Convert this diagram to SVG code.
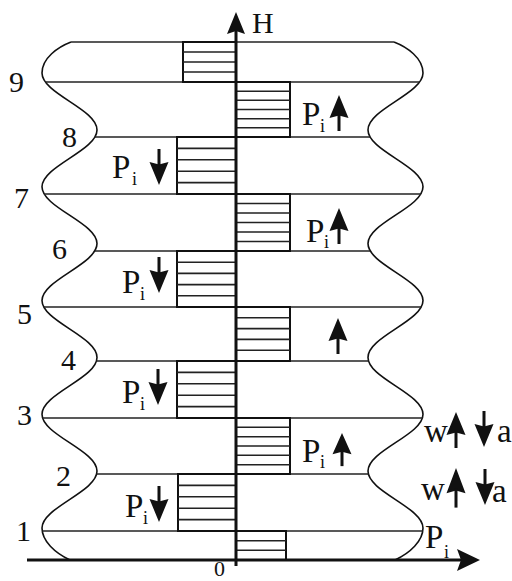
<svg xmlns="http://www.w3.org/2000/svg" width="512" height="581" viewBox="0 0 512 581">
  <style>
    .profile { fill: none; stroke: #111; stroke-width: 1.6; }
    .level { stroke: #222; stroke-width: 1.4; }
    .hatch { stroke: #222; stroke-width: 1.6; }
    .block { fill: none; stroke: #111; stroke-width: 2; }
    .axis { stroke: #111; stroke-width: 3; }
    .num { font-family: "Liberation Serif", "Times New Roman", serif; font-size: 30px; fill: #111; }
    .origin { font-family: "Liberation Serif", "Times New Roman", serif; font-size: 22px; fill: #111; }
    .lbl { font-family: "Liberation Serif", "Times New Roman", serif; font-size: 33px; fill: #111; }
    .sub { font-family: "Liberation Serif", "Times New Roman", serif; font-size: 18px; fill: #111; }
    .arrow { fill: #111; }
  </style>
  <defs>
    <!-- upward force arrow, tip at origin, 36 px long -->
    <g id="up" class="arrow">
      <path d="M0,0 L9.5,23 L0,20.5 L-9.5,23 Z"/>
      <rect x="-1.5" y="19" width="3" height="17"/>
    </g>
  </defs>

  <!-- outer wavy profile of the column -->
  <g id="profile">
    <path class="profile" d="M71,42 C58,47 42,58 42,73
      C42,93.7 97,109.2 97,129.9
      C97,150.6 42,166.1 42,186.8
      C42,207.5 97,222.9 97,243.6
      C97,264.3 42,279.8 42,300.5
      C42,321.2 97,336.7 97,357.4
      C97,378.1 42,393.6 42,414.3
      C42,435 97,450.4 97,471.1
      C97,491.8 42,507.3 42,528
      C42,541 55,553 70,560"/>
    <path class="profile" d="M394,42 C407,47 423,58 423,73
      C423,93.7 368,109.2 368,129.9
      C368,150.6 423,166.1 423,186.8
      C423,207.5 368,222.9 368,243.6
      C368,264.3 423,279.8 423,300.5
      C423,321.2 368,336.7 368,357.4
      C368,378.1 423,393.6 423,414.3
      C423,435 368,450.4 368,471.1
      C368,491.8 423,507.3 423,528
      C423,541 410,553 395,560"/>
  </g>

  <!-- storey levels -->
  <g id="levels">
    <line class="level" x1="71" y1="42" x2="394" y2="42"/>
    <line class="level" x1="45.3" y1="82" x2="419.7" y2="82"/>
    <line class="level" x1="94.9" y1="137" x2="370.1" y2="137"/>
    <line class="level" x1="44.1" y1="194" x2="420.9" y2="194"/>
    <line class="level" x1="94.7" y1="251" x2="370.3" y2="251"/>
    <line class="level" x1="43.8" y1="307" x2="421.2" y2="307"/>
    <line class="level" x1="96.5" y1="361" x2="368.5" y2="361"/>
    <line class="level" x1="42.6" y1="418" x2="422.4" y2="418"/>
    <line class="level" x1="96.6" y1="474" x2="368.4" y2="474"/>
    <line class="level" x1="42.4" y1="531" x2="422.6" y2="531"/>
  </g>

  <!-- hatched force blocks, left of the axis -->
  <g id="blocks-left">
    <g id="block-9">
      <rect class="block" x="183" y="42" width="53" height="40"/>
      <path class="hatch" d="M183,52H236M183,62H236M183,72H236"/>
    </g>
    <g id="block-8">
      <rect class="block" x="177" y="137" width="59" height="57"/>
      <path class="hatch" d="M177,148.4H236M177,159.8H236M177,171.2H236M177,182.6H236"/>
    </g>
    <g id="block-6">
      <rect class="block" x="177" y="251" width="59" height="56"/>
      <path class="hatch" d="M177,262.2H236M177,273.4H236M177,284.6H236M177,295.8H236"/>
    </g>
    <g id="block-4">
      <rect class="block" x="177" y="361" width="59" height="57"/>
      <path class="hatch" d="M177,372.4H236M177,383.8H236M177,395.2H236M177,406.6H236"/>
    </g>
    <g id="block-2">
      <rect class="block" x="178" y="474" width="58" height="57"/>
      <path class="hatch" d="M178,485.4H236M178,496.8H236M178,508.2H236M178,519.6H236"/>
    </g>
  </g>

  <!-- hatched force blocks, right of the axis -->
  <g id="blocks-right">
    <g id="block-r9">
      <rect class="block" x="236" y="82" width="54" height="55"/>
      <path class="hatch" d="M236,91.2H290M236,100.3H290M236,109.5H290M236,118.7H290M236,127.8H290"/>
    </g>
    <g id="block-r7">
      <rect class="block" x="236" y="194" width="54" height="57"/>
      <path class="hatch" d="M236,203.5H290M236,213H290M236,222.5H290M236,232H290M236,241.5H290"/>
    </g>
    <g id="block-r5">
      <rect class="block" x="236" y="307" width="54" height="54"/>
      <path class="hatch" d="M236,317.8H290M236,328.6H290M236,339.4H290M236,350.2H290"/>
    </g>
    <g id="block-r3">
      <rect class="block" x="236" y="418" width="54" height="56"/>
      <path class="hatch" d="M236,427.3H290M236,436.7H290M236,446H290M236,455.3H290M236,464.7H290"/>
    </g>
    <g id="block-r1">
      <rect class="block" x="236" y="531" width="50" height="29"/>
      <path class="hatch" d="M236,540.7H286M236,550.3H286"/>
    </g>
  </g>

  <!-- axes -->
  <g id="axes">
    <line class="axis" x1="236" y1="28" x2="236" y2="566"/>
    <path class="arrow" d="M236,12 L245,34 L236,31 L227,34 Z"/>
    <line class="axis" x1="27" y1="560" x2="462" y2="560"/>
    <path class="arrow" d="M480,560 L457,549 L461,560 L457,571 Z"/>
    <text class="num" x="252" y="33">H</text>
    <text class="origin" x="214" y="576">0</text>
  </g>

  <!-- storey numbers -->
  <g id="storey-numbers">
    <text class="num" x="9" y="92">9</text>
    <text class="num" x="62" y="147">8</text>
    <text class="num" x="14" y="208">7</text>
    <text class="num" x="52" y="259">6</text>
    <text class="num" x="17" y="324">5</text>
    <text class="num" x="61" y="370">4</text>
    <text class="num" x="17" y="425">3</text>
    <text class="num" x="56" y="486">2</text>
    <text class="num" x="16" y="541">1</text>
  </g>

  <!-- force labels and direction arrows -->
  <g id="force-labels">
    <text class="lbl" x="112" y="178">P</text><text class="sub" x="132" y="185">i</text>
    <use href="#up" transform="translate(159,185) scale(1,-1)"/>

    <text class="lbl" x="122" y="293">P</text><text class="sub" x="140" y="300">i</text>
    <use href="#up" transform="translate(159,293) scale(1,-1)"/>

    <text class="lbl" x="122" y="403">P</text><text class="sub" x="140" y="410">i</text>
    <use href="#up" transform="translate(158,405) scale(1,-1)"/>

    <text class="lbl" x="125" y="517">P</text><text class="sub" x="143" y="524">i</text>
    <use href="#up" transform="translate(159,522) scale(1,-1)"/>

    <text class="lbl" x="302" y="125">P</text><text class="sub" x="320" y="132">i</text>
    <use href="#up" transform="translate(339,95)"/>

    <text class="lbl" x="306" y="242">P</text><text class="sub" x="324" y="248">i</text>
    <use href="#up" transform="translate(339,208)"/>

    <use href="#up" transform="translate(338,318)"/>

    <text class="lbl" x="302" y="462">P</text><text class="sub" x="320" y="468">i</text>
    <use href="#up" transform="translate(342,433) scale(1,0.92)"/>

    <text class="lbl" x="425" y="548">P</text><text class="sub" x="444" y="558">i</text>
  </g>

  <!-- wind / acceleration notation -->
  <g id="wa-labels">
    <text class="lbl" x="424" y="442">w</text>
    <use href="#up" transform="translate(456,412)"/>
    <use href="#up" transform="translate(484,447) scale(1,-1)"/>
    <text class="lbl" x="497" y="442">a</text>

    <text class="lbl" x="421" y="500">w</text>
    <use href="#up" transform="translate(456,468) scale(1,1.1)"/>
    <use href="#up" transform="translate(485,505) scale(1,-1)"/>
    <text class="lbl" x="492" y="502">a</text>
  </g>
</svg>
